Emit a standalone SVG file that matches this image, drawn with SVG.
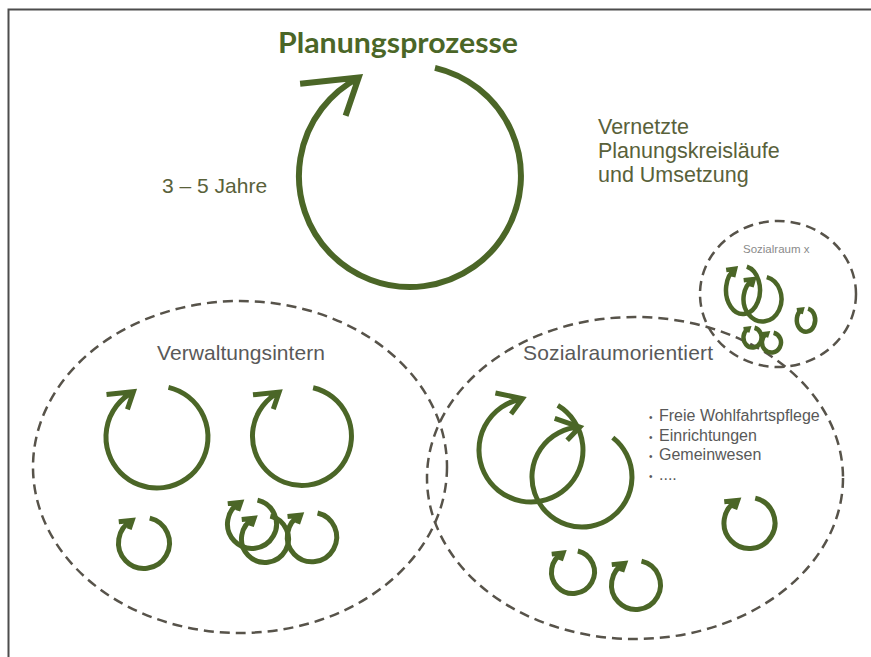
<svg xmlns="http://www.w3.org/2000/svg" xmlns:xlink="http://www.w3.org/1999/xlink" width="871" height="657" viewBox="0 0 871 657">
  <style>
    .cyc { fill: none; stroke: #4b6627; stroke-linecap: butt; stroke-linejoin: miter; }
    .dash { fill: none; stroke: #57534a; stroke-width: 2.5; stroke-dasharray: 10 6; }
    .lbl { font-family: "Liberation Sans", Arial, sans-serif; fill: #595959; }
    .olive { font-family: "Liberation Sans", Arial, sans-serif; fill: #59613a; }
  </style>
  <defs>
    <path id="cyc" d="M 22.5 -97.4 A 100 100 0 1 1 -46.2 -88.7 M -99 -83.2 L -46.2 -88.7 L -58 -54.2" vector-effect="non-scaling-stroke"/>
  </defs>
  <rect x="0" y="0" width="871" height="657" fill="#ffffff"/>
  <path d="M 8.5 657 V 9.5 H 871" fill="none" stroke="#4d4d4d" stroke-width="2"/>

  <g id="regions">
    <ellipse id="verwaltungsintern-area" class="dash" cx="240" cy="467" rx="207" ry="166"/>
    <ellipse id="sozialraumorientiert-area" class="dash" cx="635" cy="478" rx="208" ry="161"/>
    <ellipse id="sozialraum-x-area" class="dash" cx="778" cy="294" rx="78" ry="73"/>
  </g>

  <g id="title">
    <text x="278" y="53" textLength="240" lengthAdjust="spacingAndGlyphs" font-family="Lato, 'Liberation Sans', sans-serif" font-weight="700" font-size="28" fill="#4b6627">Planungsprozesse</text>
  </g>
  <g id="main-cycle">
    <use xlink:href="#cyc" class="cyc" transform="translate(410 176) scale(1.11)" style="stroke-width:6"/>
  </g>
  <g id="duration">
    <text class="olive" x="162" y="193" font-size="21">3 – 5 Jahre</text>
  </g>
  <g id="network-note">
    <text class="olive" x="598" y="134" font-size="21.5">Vernetzte</text>
    <text class="olive" x="598" y="158" font-size="21.5">Planungskreisläufe</text>
    <text class="olive" x="598" y="182" font-size="21.5">und Umsetzung</text>
  </g>

  <g id="verwaltungsintern">
    <text class="lbl" x="157" y="360" font-size="21" textLength="168">Verwaltungsintern</text>
    <g id="vi-cycle-1"><use xlink:href="#cyc" class="cyc" transform="translate(157 437) scale(0.51)" style="stroke-width:5"/></g>
    <g id="vi-cycle-2"><use xlink:href="#cyc" class="cyc" transform="translate(302 436) scale(0.495)" style="stroke-width:5"/></g>
    <g id="vi-cycle-3"><use xlink:href="#cyc" class="cyc" transform="translate(144 543) scale(0.255)" style="stroke-width:5"/></g>
    <g id="vi-cycle-4"><use xlink:href="#cyc" class="cyc" transform="translate(252 524) scale(0.245)" style="stroke-width:5"/></g>
    <g id="vi-cycle-5"><use xlink:href="#cyc" class="cyc" transform="translate(265 539) scale(0.235)" style="stroke-width:5"/></g>
    <g id="vi-cycle-6"><use xlink:href="#cyc" class="cyc" transform="translate(312 537) scale(0.247)" style="stroke-width:5"/></g>
  </g>

  <g id="sozialraumorientiert">
    <text class="lbl" x="523" y="360" font-size="21" textLength="190">Sozialraumorientiert</text>
    <g id="so-cycle-1"><use xlink:href="#cyc" class="cyc" transform="translate(531 450) rotate(18) scale(0.52)" style="stroke-width:5"/></g>
    <g id="so-cycle-2"><use xlink:href="#cyc" class="cyc" transform="translate(582 477) rotate(25) scale(0.50)" style="stroke-width:5"/></g>
    <g id="so-cycle-3"><use xlink:href="#cyc" class="cyc" transform="translate(573 572) scale(0.215)" style="stroke-width:5"/></g>
    <g id="so-cycle-4"><use xlink:href="#cyc" class="cyc" transform="translate(636 585) scale(0.245)" style="stroke-width:5"/></g>
    <g id="so-cycle-5"><use xlink:href="#cyc" class="cyc" transform="translate(749.5 523) scale(0.255)" style="stroke-width:5"/></g>
    <g id="so-list" class="lbl" font-size="16" fill="#4a4a4a">
      <text x="649" y="421" font-size="10">•</text><text x="659" y="421">Freie Wohlfahrtspflege</text>
      <text x="649" y="440.5" font-size="10">•</text><text x="659" y="440.5">Einrichtungen</text>
      <text x="649" y="460" font-size="10">•</text><text x="659" y="460">Gemeinwesen</text>
      <text x="649" y="479.5" font-size="10">•</text><text x="659" y="479.5">....</text>
    </g>
  </g>

  <g id="sozialraum-x">
    <text x="743" y="253" font-family="'Liberation Sans', Arial, sans-serif" font-size="11.5" fill="#8a8a8a">Sozialraum x</text>
    <g id="sx-cycle-1"><use xlink:href="#cyc" class="cyc" transform="translate(743 290) scale(0.17 0.24)" style="stroke-width:4.5"/></g>
    <g id="sx-cycle-2"><use xlink:href="#cyc" class="cyc" transform="translate(762.5 299) scale(0.19 0.225)" style="stroke-width:4.5"/></g>
    <g id="sx-cycle-3"><use xlink:href="#cyc" class="cyc" transform="translate(806 320) scale(0.092 0.117)" style="stroke-width:4.5"/></g>
    <g id="sx-cycle-4"><use xlink:href="#cyc" class="cyc" transform="translate(752.5 337.5) scale(0.09 0.1)" style="stroke-width:4.5"/></g>
    <g id="sx-cycle-5"><use xlink:href="#cyc" class="cyc" transform="translate(771.5 342.5) scale(0.095 0.1)" style="stroke-width:4.5"/></g>
  </g>
</svg>
